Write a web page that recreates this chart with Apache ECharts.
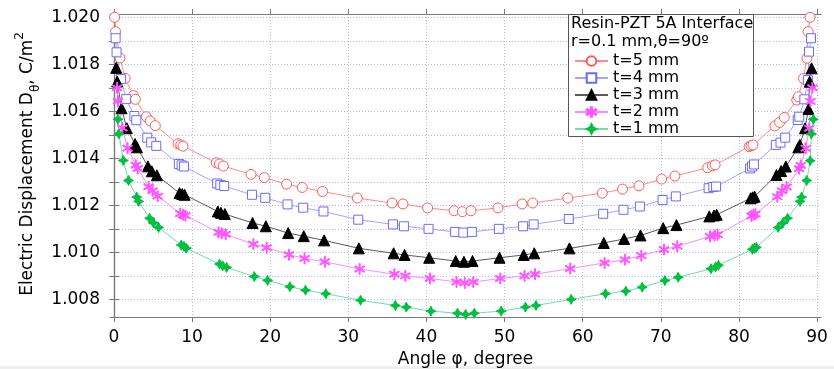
<!DOCTYPE html>
<html><head><meta charset="utf-8">
<script src="https://cdn.jsdelivr.net/npm/echarts@6/dist/echarts.min.js"></script>
<style>html,body{margin:0;padding:0;background:#fff}#c{width:834px;height:369px}</style>
</head><body><div id="c"></div>
<script>
// angles (degree) read per series
const angT5 = [0.10,0.22,0.78,1.45,2.50,2.75,4.15,4.65,5.30, 8.20,8.55,8.85, 13.10,13.50,14.00, 17.55,19.25,22.10,24.10,26.70, 31.15,35.60,37.00,40.15,43.55,44.60,45.70,49.15,52.25,53.60,58.10, 62.50,65.10,67.20,70.10,71.80, 76.00,76.60,76.95, 81.30,81.55,81.80, 84.60,85.20,85.80,87.40,87.60,88.25,88.70,88.85,89.10];
const angT4 = [0.22,0.34,0.90,1.57,2.62,2.87,4.27,4.77,5.42, 8.32,8.67,8.97, 13.22,13.62,14.12, 17.67,19.37,22.22,24.22,26.82, 31.27,35.72,37.12,40.27,43.67,44.72,45.82,49.27,52.37,53.72,58.22, 62.62,65.22,67.32,70.22,71.92, 76.12,76.72,77.07, 81.42,81.67,81.92, 84.72,85.32,85.92,87.52,87.72,88.37,88.82,88.97,89.22];
const angT3 = [0.30,0.42,0.98,1.65,2.70,2.95,4.35,4.85,5.50, 8.40,8.75,9.05, 13.30,13.70,14.20, 17.75,19.45,22.30,24.30,26.90, 31.35,35.80,37.20,40.35,43.75,44.80,45.90,49.35,52.45,53.80,58.30, 62.70,65.30,67.40,70.30,72.00, 76.20,76.80,77.15, 81.50,81.75,82.00, 84.80,85.40,86.00,87.60,87.80,88.45,88.90,89.05,89.30];
const angT2 = [0.40,0.52,1.08,1.75,2.80,3.05,4.45,4.95,5.60, 8.50,8.85,9.15, 13.40,13.80,14.30, 17.85,19.55,22.40,24.40,27.00, 31.45,35.90,37.30,40.45,43.85,44.90,46.00,49.45,52.55,53.90,58.40, 62.80,65.40,67.50,70.40,72.10, 76.30,76.90,77.25, 81.60,81.85,82.10, 84.90,85.50,86.10,87.70,87.90,88.55,89.00,89.15,89.40];
const angT1 = [0.52,0.64,1.20,1.87,2.92,3.17,4.57,5.07,5.72, 8.62,8.97,9.27, 13.52,13.92,14.42, 17.97,19.67,22.52,24.52,27.12, 31.57,36.02,37.42,40.57,43.97,45.02,46.12,49.57,52.67,54.02,58.52, 62.92,65.52,67.62,70.52,72.22, 76.42,77.02,77.37, 81.72,81.97,82.22, 85.02,85.62,86.22,87.82,88.02,88.67,89.12,89.27,89.52];

// electric displacement values, C/m^2
const dT5 = [1.02000,1.01939,1.01827,1.01740,1.01667,1.01651,1.01577,1.01559,1.01539, 1.01462,1.01457,1.01452, 1.01381,1.01376,1.01367, 1.01332,1.01318,1.01290,1.01276,1.01259, 1.01231,1.01210,1.01206,1.01189,1.01177,1.01173,1.01177,1.01189,1.01206,1.01210,1.01231, 1.01252,1.01269,1.01283,1.01312,1.01325, 1.01360,1.01368,1.01372, 1.01450,1.01454,1.01457, 1.01538,1.01553,1.01574,1.01648,1.01662,1.01740,1.01826,1.01939,1.02000];
const dT4 = [1.01911,1.01851,1.01737,1.01652,1.01580,1.01562,1.01488,1.01468,1.01453, 1.01376,1.01370,1.01365, 1.01293,1.01287,1.01282, 1.01245,1.01232,1.01204,1.01190,1.01174, 1.01139,1.01119,1.01111,1.01100,1.01087,1.01084,1.01087,1.01100,1.01111,1.01119,1.01142, 1.01164,1.01181,1.01195,1.01223,1.01238, 1.01273,1.01278,1.01280, 1.01357,1.01365,1.01374, 1.01457,1.01467,1.01488,1.01563,1.01577,1.01651,1.01733,1.01854,1.01911];
const dT3 = [1.01785,1.01727,1.01613,1.01528,1.01461,1.01447,1.01366,1.01345,1.01328, 1.01252,1.01248,1.01245, 1.01174,1.01168,1.01163, 1.01125,1.01111,1.01082,1.01069,1.01051, 1.01017,1.00996,1.00989,1.00977,1.00963,1.00960,1.00963,1.00977,1.00989,1.00996,1.01017, 1.01040,1.01057,1.01072,1.01103,1.01116, 1.01153,1.01157,1.01160, 1.01230,1.01234,1.01237, 1.01329,1.01346,1.01365,1.01447,1.01457,1.01528,1.01610,1.01726,1.01783];
const dT2 = [1.01700,1.01643,1.01529,1.01443,1.01371,1.01357,1.01279,1.01262,1.01239, 1.01165,1.01160,1.01156, 1.01085,1.01081,1.01077, 1.01035,1.01020,1.00990,1.00974,1.00960, 1.00929,1.00907,1.00900,1.00889,1.00874,1.00870,1.00874,1.00889,1.00900,1.00907,1.00931, 1.00955,1.00969,1.00986,1.01012,1.01026, 1.01068,1.01072,1.01075, 1.01155,1.01160,1.01163, 1.01237,1.01262,1.01278,1.01356,1.01370,1.01443,1.01528,1.01642,1.01700];
const dT1 = [1.01566,1.01504,1.01391,1.01306,1.01235,1.01217,1.01145,1.01125,1.01106, 1.01031,1.01025,1.01018, 1.00950,1.00943,1.00936, 1.00897,1.00881,1.00854,1.00839,1.00824, 1.00796,1.00774,1.00767,1.00750,1.00741,1.00736,1.00741,1.00750,1.00767,1.00774,1.00800, 1.00824,1.00835,1.00852,1.00880,1.00894, 1.00930,1.00938,1.00945, 1.01013,1.01017,1.01021, 1.01106,1.01125,1.01145,1.01217,1.01235,1.01306,1.01390,1.01504,1.01566];

const seriesNames = ['t=5 mm','t=4 mm','t=3 mm','t=2 mm','t=1 mm'];
const xTicks = [0,10,20,30,40,50,60,70,80,90];
const yTicks = [1.008,1.009,1.010,1.011,1.012,1.013,1.014,1.015,1.016,1.017,1.018,1.019,1.020];
const yLabels = [1.008,1.010,1.012,1.014,1.016,1.018,1.020];
const legendTitle = ['Resin-PZT 5A Interface','r=0.1 mm,θ=90º'];

const FONT = '"DejaVu Sans", Verdana, sans-serif';
const pairs = (xs, ys) => xs.map((x, i) => [x, ys[i]]);

const asterisk = 'path://M-0.45,-5L0.45,-5L0.45,5L-0.45,5ZM4.08,2.93L4.58,2.07L-4.08,-2.93L-4.58,-2.07ZM-4.58,2.07L-4.08,2.93L4.58,-2.07L4.08,-2.93Z';
const star4 = 'path://M0,-5L1.7,-1.7L5,0L1.7,1.7L0,5L-1.7,1.7L-5,0L-1.7,-1.7Z';

const styles = [
  {sym:'circle', size:10, fill:'#ffffff', stroke:'#ff5a5a', line:'#ff8a8a'},
  {sym:'rect', size:9, fill:'#ffffff', stroke:'#6a6aff', line:'#a5a5ff'},
  {sym:'triangle', size:11, fill:'#000000', stroke:'#000000', line:'#5a5a5a'},
  {sym:asterisk, size:11, fill:'#ff55ff', stroke:'#ff55ff', line:'#ff88ff'},
  {sym:star4, size:10, fill:'#00c040', stroke:'#00c040', line:'#70dca8'}
];
const dataSets = [pairs(angT5,dT5), pairs(angT4,dT4), pairs(angT3,dT3), pairs(angT2,dT2), pairs(angT1,dT1)];

const axisCol = '#7a7a7a';
const gridLine = {show:true, lineStyle:{type:[1,2], color:'#b4b4ff', width:1}};

const chart = echarts.init(document.getElementById('c'), null, {renderer:'canvas'});
chart.setOption({
  animation:false,
  backgroundColor:'#ffffff',
  grid:{left:110, right:13, top:14, bottom:52, containLabel:false, outerBoundsMode:'none'},
  xAxis:[
    {type:'value', min:-0.5, max:90.5, position:'bottom',
     name:'Angle φ, degree', nameLocation:'middle', nameGap:27,
     nameTextStyle:{fontFamily:FONT, fontSize:17, color:'#000'},
     axisLine:{show:true, lineStyle:{color:axisCol, width:1.2}},
     axisTick:{show:true, customValues:xTicks, length:5, lineStyle:{color:axisCol}},
     axisLabel:{customValues:xTicks, fontFamily:FONT, fontSize:17, color:'#000', margin:12},
     splitLine:gridLine},
    {type:'value', min:-0.5, max:90.5, position:'top',
     axisLine:{show:true, lineStyle:{color:axisCol, width:1.2}},
     axisTick:{show:true, customValues:xTicks, length:5, lineStyle:{color:axisCol}},
     axisLabel:{show:false}, splitLine:{show:false}}
  ],
  yAxis:[
    {type:'value', min:1.00725, max:1.02014, position:'left',
     axisLine:{show:true, lineStyle:{color:axisCol, width:1.2}},
     axisTick:{show:true, customValues:yTicks, length:5, lineStyle:{color:axisCol}},
     axisLabel:{customValues:yLabels, fontFamily:FONT, fontSize:17, color:'#000', margin:10,
       formatter:v => v.toFixed(3)},
     splitLine:gridLine},
    {type:'value', min:1.00725, max:1.02014, position:'right',
     axisLine:{show:true, lineStyle:{color:axisCol, width:1.2}},
     axisTick:{show:true, customValues:yTicks, length:5, lineStyle:{color:axisCol}},
     axisLabel:{show:false}, splitLine:{show:false}}
  ],
  legend:{orient:'vertical', left:569, top:48, itemWidth:33, itemHeight:12, itemGap:1,
    textStyle:{fontFamily:FONT, fontSize:16, color:'#000'},
    data:seriesNames, z:6},
  graphic:[
    {type:'rect', z:-1, shape:{x:0, y:366, width:834, height:3}, style:{fill:'#efefef'}},
    {type:'rect', z:5, shape:{x:568.5, y:14.5, width:185, height:122},
     style:{fill:'#ffffff', stroke:'#555555', lineWidth:1}},
    {type:'text', z:7, x:571, y:23.5, style:{text:legendTitle[0], font:'16px '+FONT, fill:'#000', textVerticalAlign:'middle'}},
    {type:'text', z:7, x:571, y:41.5, style:{text:legendTitle[1], font:'16px '+FONT, fill:'#000', textVerticalAlign:'middle'}},
    {type:'text', z:7, x:28, y:164, rotation:Math.PI/2,
     style:{text:'{a|Electric Displacement D}{b|θ}{a|, C/m}{c|2}', textAlign:'center', textVerticalAlign:'middle',
       rich:{a:{fontFamily:FONT, fontSize:17, lineHeight:28, fill:'#000'},
             b:{fontFamily:FONT, fontSize:12, verticalAlign:'bottom', fill:'#000'},
             c:{fontFamily:FONT, fontSize:12, verticalAlign:'top', fill:'#000'}}}}
  ],
  series:dataSets.map((d, i) => ({
    name:seriesNames[i], type:'line', data:d, xAxisIndex:0, yAxisIndex:0,
    symbol:styles[i].sym, symbolSize:styles[i].size, symbolKeepAspect:true, showSymbol:true,
    lineStyle:{color:styles[i].line, width:1},
    itemStyle:{color:styles[i].fill, borderColor:styles[i].stroke, borderWidth:1},
    emphasis:{disabled:true}, z:2
  }))
});
</script></body></html>
